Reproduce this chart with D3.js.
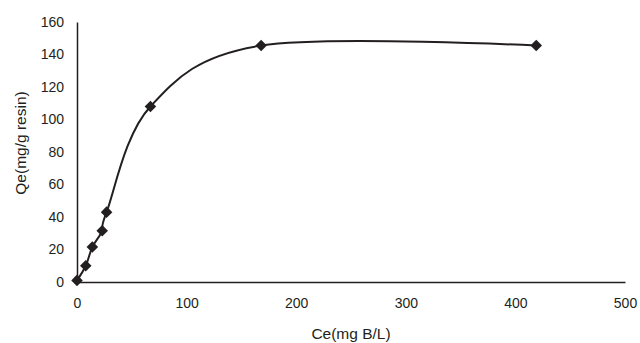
<!DOCTYPE html>
<html>
<head>
<meta charset="utf-8">
<script src="https://cdn.jsdelivr.net/npm/d3@7"></script>
<style>
  body { margin: 0; background: #fff; }
  text { font-family: "Liberation Sans", Arial, sans-serif; fill: #231f20; }
</style>
</head>
<body>
<svg id="chart" width="640" height="343"></svg>
<script>
// equilibrium concentration vs uptake
var ceValues = [0, 8, 14, 23, 27, 67, 168, 419];
var qeValues = [1, 10, 21.5, 31.5, 43, 108, 145.5, 145.5];
var xTicks = [0, 100, 200, 300, 400, 500];
var yTicks = [0, 20, 40, 60, 80, 100, 120, 140, 160];

var svg = d3.select("#chart");
var margin = {top: 22, right: 15, bottom: 61, left: 77},
    width = +svg.attr("width") - margin.left - margin.right,
    height = +svg.attr("height") - margin.top - margin.bottom;

var g = svg.append("g").attr("transform", "translate(" + margin.left + "," + margin.top + ")");

var x = d3.scaleLinear().domain([0, 500]).range([0, 548]);
var y = d3.scaleLinear().domain([0, 160]).range([height, 0]);

var points = ceValues.map(function(c, i) { return [c, qeValues[i]]; });

// axes, no tick marks
var xAxis = g.append("g")
    .attr("transform", "translate(0," + height + ")")
    .call(d3.axisBottom(x).tickValues(xTicks).tickSize(0).tickPadding(16));
var yAxis = g.append("g")
    .call(d3.axisLeft(y).tickValues(yTicks).tickSize(0).tickPadding(13));

[xAxis, yAxis].forEach(function(a) {
  a.select(".domain").attr("stroke", "#231f20").attr("stroke-width", 1.5);
  a.selectAll("text").style("font-size", "14px").attr("fill", "#231f20");
});

var line = d3.line()
    .x(function(d) { return x(d[0]); })
    .y(function(d) { return y(d[1]); })
    .curve(d3.curveCatmullRom.alpha(0));

g.append("path")
    .datum(points)
    .attr("fill", "none")
    .attr("stroke", "#231f20")
    .attr("stroke-width", 2)
    .attr("d", line);

g.selectAll(".pt")
  .data(points)
  .enter().append("path")
    .attr("class", "pt")
    .attr("d", d3.symbol().type(d3.symbolDiamond2).size(85))
    .attr("transform", function(d) { return "translate(" + x(d[0]) + "," + y(d[1]) + ")"; })
    .attr("fill", "#231f20");

svg.append("text")
    .attr("x", margin.left + x(250))
    .attr("y", 339)
    .attr("text-anchor", "middle")
    .style("font-size", "15.5px")
    .text("Ce(mg B/L)");

svg.append("text")
    .attr("transform", "translate(26," + 143 + ") rotate(-90)")
    .attr("text-anchor", "middle")
    .style("font-size", "15.5px")
    .text("Qe(mg/g resin)");
</script>
</body>
</html>
